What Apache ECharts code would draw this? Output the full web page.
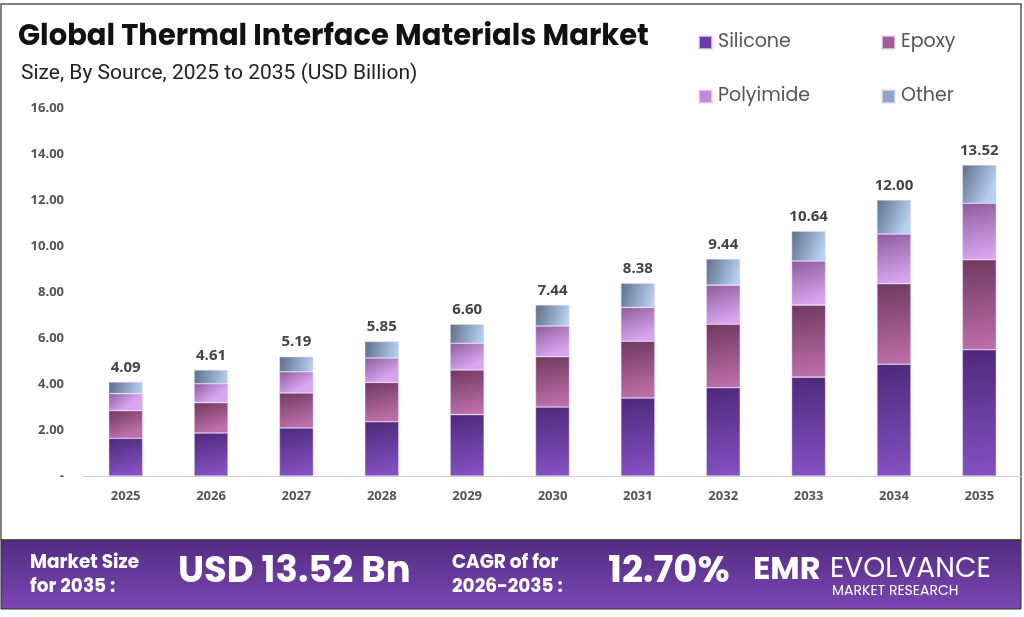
<!DOCTYPE html>
<html><head><meta charset="utf-8">
<script src="https://cdn.jsdelivr.net/npm/echarts@6/dist/echarts.min.js"></script>
<style>html,body{margin:0;padding:0;background:#fff}#c{width:1024px;height:617px}</style>
</head><body><div id="c"></div>
<script>
const years = ['2025','2026','2027','2028','2029','2030','2031','2032','2033','2034','2035'];
const silicone  = [1.64,1.87,2.09,2.36,2.67,3.00,3.39,3.84,4.30,4.86,5.49];
const epoxy     = [1.20,1.32,1.52,1.71,1.94,2.19,2.47,2.76,3.13,3.50,3.91];
const polyimide = [0.74,0.82,0.92,1.06,1.16,1.33,1.47,1.70,1.92,2.16,2.46];
const other     = [0.51,0.60,0.66,0.72,0.83,0.92,1.05,1.14,1.29,1.48,1.66];
const totals    = ['4.09','4.61','5.19','5.85','6.60','7.44','8.38','9.44','10.64','12.00','13.52'];
const yTicks = [0,2,4,6,8,10,12,14,16];

const G = echarts.graphic.LinearGradient;
function grad(a,b,x2,y2){return new G(0,0,x2,y2,[{offset:0,color:a},{offset:1,color:b}]);}
const cSil = grad('#4c2a7a','#8450c2',0.3,1);
const cEpo = grad('#70395f','#bc6ea8',0.3,1);
const cPol = grad('#8e5c9c','#d8a6f0',0.4,1);
const cOth = grad('#5f6f88','#b6cff2',1,0.4);
const FONT = 'Poppins, "Open Sans", Lato, sans-serif';

const chart = echarts.init(document.getElementById('c'));
function mkSeries(name,data,color,isTop){
  const s = {name,type:'bar',stack:'t',data,barWidth:34,
    itemStyle:{color,borderColor:'rgba(235,220,255,0.7)',borderWidth:0.6},
    emphasis:{disabled:true}};
  if(isTop){s.label={show:true,position:'top',distance:7,formatter:p=>totals[p.dataIndex],
    color:'#444',fontWeight:'bold',fontSize:15,fontFamily:'"Open Sans", sans-serif'};}
  return s;
}
function leg(name,left,top,color){
  return {data:[{name,itemStyle:{color}}],left,top,itemWidth:13,itemHeight:13,icon:'rect',
    textStyle:{color:'#555',fontSize:19,fontFamily:FONT,padding:[0,0,0,1]},selectedMode:false};
}
chart.setOption({
  animation:false,
  backgroundColor:'#fff',
  title:[
    {text:'Global Thermal Interface Materials Market',left:13,top:18,
     textStyle:{fontSize:29,fontWeight:'bold',color:'#111',fontFamily:FONT}},
    {text:'Size, By Source, 2025 to 2035 (USD Billion)',left:16,top:58,
     textStyle:{fontSize:21,fontWeight:'normal',color:'#222',fontFamily:'Roboto, "Open Sans", sans-serif'}}
  ],
  legend:[
    leg('Silicone',693,28,'#6a3aa8'),
    leg('Epoxy',876,28,'#a05c92'),
    leg('Polyimide',693,82,'#c08ad6'),
    leg('Other',876,82,'#8ea4c8')
  ],
  grid:{left:83,right:2,top:108,bottom:141,containLabel:false},
  xAxis:{type:'category',data:years,
    axisLine:{lineStyle:{color:'#d0d0d0',width:1}},axisTick:{show:false},
    axisLabel:{color:'#555',fontWeight:'bold',fontSize:13,margin:14,fontFamily:'"Open Sans", sans-serif'}},
  yAxis:{type:'value',min:0,max:16,interval:2,
    splitLine:{show:false},axisLine:{show:false},axisTick:{show:false},
    axisLabel:{color:'#555',fontWeight:'bold',fontSize:13,margin:19,fontFamily:'"Open Sans", sans-serif',
      formatter:v=>v===0?'-':v.toFixed(2)}},
  series:[
    mkSeries('Silicone',silicone,cSil,false),
    mkSeries('Epoxy',epoxy,cEpo,false),
    mkSeries('Polyimide',polyimide,cPol,false),
    mkSeries('Other',other,cOth,true)
  ],
  graphic:[
    {type:'rect',z:-1,shape:{x:1,y:4,width:1020,height:536},style:{fill:'none',stroke:'#555',lineWidth:1.5}},
    {type:'rect',shape:{x:1,y:540,width:1020,height:69},
      style:{fill:new G(0,0,0,1,[{offset:0,color:'#522c80'},{offset:1,color:'#7b47b4'}]),stroke:'#333',lineWidth:1}},
    {type:'text',left:30,top:551,style:{text:'Market Size\nfor 2035 :',fill:'#fff',font:'bold 18.5px '+FONT,lineHeight:24}},
    {type:'text',left:178,top:554,style:{text:'USD 13.52 Bn',fill:'#fff',font:'bold 37px '+FONT}},
    {type:'text',left:452,top:551,style:{text:'CAGR of for\n2026-2035 :',fill:'#fff',font:'bold 18.5px '+FONT,lineHeight:24}},
    {type:'text',left:608,top:554,style:{text:'12.70%',fill:'#fff',font:'bold 37px '+FONT}},
    {type:'text',left:753,top:555,style:{text:'EMR',fill:'#fff',font:'bold 32px '+FONT}},
    {type:'text',left:830,top:556,style:{text:'EVOLVANCE',fill:'#fff',font:'28px '+FONT}},
    {type:'text',left:832,top:584,style:{text:'MARKET RESEARCH',fill:'#fff',font:'14px '+FONT}}
  ]
});
</script></body></html>
